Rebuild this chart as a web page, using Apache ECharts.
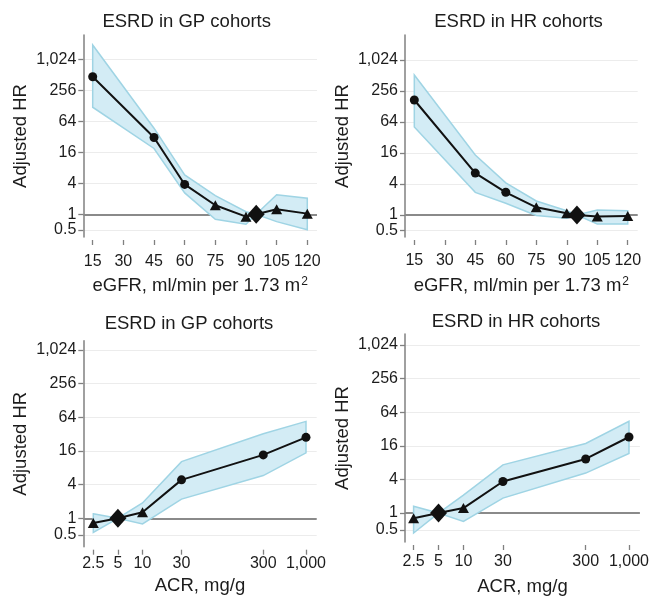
<!DOCTYPE html>
<html><head><meta charset="utf-8">
<script src="https://cdn.jsdelivr.net/npm/echarts@6/dist/echarts.min.js"></script>
<style>html,body{margin:0;padding:0;background:#fff}#c{width:652px;height:598px}</style>
</head><body><div id="c"></div>
<script>
// ---------- data ----------
const egfr = [15, 45, 60, 75, 90, 95, 105, 120];
const gpGfrHR = [470, 31, 3.8, 1.5, 0.9, 1, 1.25, 1.03];
const gpGfrLo = [120, 19, 2.6, 0.8, 0.64, 1, 0.72, 0.5];
const gpGfrHi = [1940, 47, 5.8, 2.3, 1.12, 1, 2.4, 2.05];
const hrGfrHR = [171, 6.5, 2.76, 1.41, 1.08, 1, 0.93, 0.96];
const hrGfrLo = [51, 2.75, 1.69, 0.98, 0.86, 1, 0.67, 0.67];
const hrGfrHi = [523, 14.6, 4.2, 1.87, 1.21, 1, 1.25, 1.21];
const acr = [2.5, 5, 10, 30, 300, 1000];
const gpAcrHR = [0.82, 1, 1.28, 4.86, 13.6, 28];
const gpAcrLo = [0.56, 1, 0.79, 2.2, 5.8, 14.8];
const gpAcrHi = [1.2, 1, 1.88, 10.3, 32.4, 54];
const hrAcrHR = [0.81, 1, 1.23, 3.67, 9.3, 23];
const hrAcrLo = [0.44, 1, 0.71, 1.85, 5.2, 11.7];
const hrAcrHi = [1.32, 1, 2.1, 7.3, 17.6, 44];
const yTicks = [0.5, 1, 4, 16, 64, 256, 1024];
const yLabelsMain = [1, 4, 16, 64, 256, 1024];
const yLabelsLow = [0.5];
const gfrTicks = [15, 30, 45, 60, 75, 90, 105, 120];
const acrTicks = [2.5, 5, 10, 30, 300, 1000];
const gfrMarkers = ['circle', 'circle', 'circle', 'triangle', 'triangle', 'diamond', 'triangle', 'triangle'];
const acrMarkers = ['triangle', 'diamond', 'triangle', 'circle', 'circle', 'circle'];
const titles = ['ESRD in GP cohorts', 'ESRD in HR cohorts', 'ESRD in GP cohorts', 'ESRD in HR cohorts'];
const yName = 'Adjusted HR';
const gfrName = 'eGFR, ml/min per 1.73 m{sup|2}';
const acrName = 'ACR, mg/g';

// ---------- style / layout ----------
const FONT = '"Liberation Sans", Arial, Helvetica, sans-serif';
const TXT = '#1c1c1c';
const AX = '#808080';
const symSize = { circle: 9, triangle: [11, 10], diamond: [17, 19] };

const panels = [
  { grid: { left: 83.3, top: 35, width: 233.7, height: 202 }, yExp: [-1.465, 11.568], xType: 'value', xRange: [10.4, 124.75],
    xs: egfr, hr: gpGfrHR, lo: gpGfrLo, hi: gpGfrHi, marks: gfrMarkers, ticks: gfrTicks, xName: gfrName, xNameGap: 36, xLabMargin: 14,
    title: [186.7, 21.5] },
  { grid: { left: 405, top: 35, width: 232.7, height: 202 }, yExp: [-1.42, 11.61], xType: 'value', xRange: [10.42, 124.9],
    xs: egfr, hr: hrGfrHR, lo: hrGfrLo, hi: hrGfrHi, marks: gfrMarkers, ticks: gfrTicks, xName: gfrName, xNameGap: 36, xLabMargin: 13,
    title: [518.5, 21.7] },
  { grid: { left: 83.3, top: 340.7, width: 233.4, height: 206 }, yExp: [-1.69, 10.55], xType: 'log', xRange: [1.886, 1352],
    xs: acr, hr: gpAcrHR, lo: gpAcrLo, hi: gpAcrHi, marks: acrMarkers, ticks: acrTicks, xName: acrName, xNameGap: 26, xLabMargin: 6,
    title: [189, 324] },
  { grid: { left: 405, top: 334, width: 237, height: 209 }, yExp: [-1.72, 10.65], xType: 'log', xRange: [1.968, 1355],
    xs: acr, hr: hrAcrHR, lo: hrAcrLo, hi: hrAcrHi, marks: acrMarkers, ticks: acrTicks, xName: acrName, xNameGap: 32, xLabMargin: 9,
    title: [516, 321.5] }
];

function fmt(v) {
  const r = Math.round(v * 100) / 100;
  return r.toLocaleString('en-US');
}

const grids = [], xAxes = [], yAxes = [], yAxesLow = [], series = [], graphics = [];
panels.forEach((p, i) => {
  grids.push(Object.assign({ containLabel: false }, p.grid));
  xAxes.push({
    type: p.xType, logBase: 10, gridIndex: i, min: p.xRange[0], max: p.xRange[1], offset: 3,
    axisLine: { show: false },
    axisTick: { show: true, length: 5, lineStyle: { color: AX, width: 1.3 }, customValues: p.ticks },
    axisLabel: { customValues: p.ticks, formatter: fmt, fontSize: 16, color: TXT, fontFamily: FONT, margin: p.xLabMargin,
      showMinLabel: true, showMaxLabel: true },
    splitLine: { show: false },
    name: p.xName, nameLocation: 'middle', nameGap: p.xNameGap,
    nameTextStyle: { fontSize: 18.5, color: TXT, fontFamily: FONT, lineHeight: 20,
      rich: { sup: { fontSize: 12, color: TXT, fontFamily: FONT, verticalAlign: 'top', lineHeight: 20, padding: [0, 0, 9, 1] } } }
  });
  const yMin = Math.pow(2, p.yExp[0]), yMax = Math.pow(2, p.yExp[1]);
  yAxes.push({
    type: 'log', logBase: 2, gridIndex: i, position: 'left', min: yMin, max: yMax,
    axisLine: { show: true, lineStyle: { color: AX, width: 1.5 } },
    axisTick: { show: true, length: 5, lineStyle: { color: AX, width: 1.3 }, customValues: yTicks },
    axisLabel: { customValues: yLabelsMain, formatter: fmt, fontSize: 16, color: TXT, fontFamily: FONT, margin: 7,
      showMinLabel: true, showMaxLabel: true },
    splitLine: { show: true, lineStyle: { color: '#ececec', width: 1 } },
    name: yName, nameLocation: 'middle', nameGap: 53,
    nameTextStyle: { fontSize: 18.5, color: TXT, fontFamily: FONT }
  });
  yAxesLow.push({
    type: 'log', logBase: 2, gridIndex: i, position: 'left', offset: 0, min: yMin, max: yMax,
    axisLine: { show: false }, axisTick: { show: false }, splitLine: { show: false },
    axisLabel: { customValues: yLabelsLow, formatter: fmt, fontSize: 16, color: TXT, fontFamily: FONT, margin: 7,
      showMinLabel: true, showMaxLabel: true }
  });
  const xs = p.xs, lo = p.lo, hi = p.hi;
  series.push({
    type: 'custom', xAxisIndex: i, yAxisIndex: i, silent: true, z: 2,
    data: [[xs[0], hi[0]]],
    renderItem: (params, api) => {
      const up = xs.map((x, k) => api.coord([x, hi[k]]));
      const dn = xs.map((x, k) => api.coord([x, lo[k]])).reverse();
      return { type: 'polygon', shape: { points: up.concat(dn) },
        style: { fill: '#d3ecf5', stroke: '#9fd4e4', lineWidth: 1.5 } };
    }
  });
  series.push({
    type: 'line', xAxisIndex: i, yAxisIndex: i, silent: true, z: 3,
    lineStyle: { color: '#111', width: 2 }, itemStyle: { color: '#111' },
    data: xs.map((x, k) => ({ value: [x, p.hr[k]], symbol: p.marks[k], symbolSize: symSize[p.marks[k]] })),
    markLine: { silent: true, symbol: 'none', z: 1, label: { show: false },
      lineStyle: { color: '#8a8a8a', width: 2, type: 'solid' }, emphasis: { disabled: true },
      data: [{ yAxis: 1 }] }
  });
  graphics.push({ type: 'text', x: p.title[0], y: p.title[1],
    style: { text: titles[i], font: '18.5px ' + FONT, fill: TXT, align: 'center', verticalAlign: 'middle',
      textAlign: 'center', textVerticalAlign: 'middle' } });
});

const chart = echarts.init(document.getElementById('c'), null, { renderer: 'canvas' });
chart.setOption({
  animation: false,
  backgroundColor: '#fff',
  grid: grids, xAxis: xAxes, yAxis: yAxes.concat(yAxesLow), series: series,
  graphic: graphics
});
</script></body></html>
